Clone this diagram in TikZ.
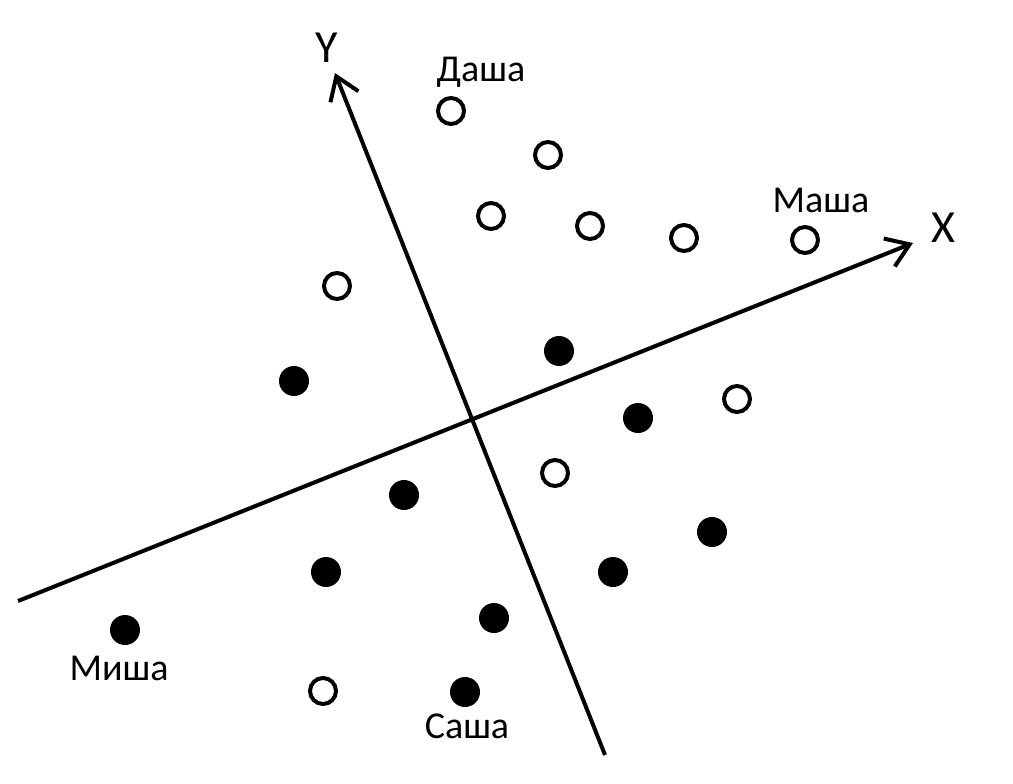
\documentclass[tikz,border=0pt]{standalone}
\usepackage{fontspec}
\setmainfont{Carlito}
\usetikzlibrary{arrows.meta}

\begin{document}
\begin{tikzpicture}[x=1pt, y=-1pt,
        hollowdot/.style={circle, draw, line width=4pt, minimum size=26pt, inner sep=0pt},
        fulldot/.style={circle, fill, minimum size=30pt, inner sep=0pt},
        kidname/.style={font=\fontsize{38}{42}\selectfont},
        axisname/.style={font=\fontsize{46}{50}\selectfont}]
        \useasboundingbox (0, 0) rectangle (1013, 784);
        % axes
        \coordinate (x0) at (18, 601);
        \coordinate (x1) at (913, 243);
        \coordinate (y0) at (605, 755);
        \coordinate (y1) at (335, 73);
        \draw[line width=4pt, -{Straight Barb[length=22pt, width=30pt, line width=4pt]}] (x0) -- (x1);
        \draw[line width=4pt, -{Straight Barb[length=22pt, width=30pt, line width=4pt]}] (y0) -- (y1);
        \node[axisname] (xlab) at (943, 228) {X};
        \node[axisname] (ylab) at (327, 48) {Y};
        % open dots
        \node[hollowdot] (dasha) at (451, 111) {};
        \node[hollowdot] (h2) at (548, 155) {};
        \node[hollowdot] (h3) at (491, 216) {};
        \node[hollowdot] (h4) at (590, 226) {};
        \node[hollowdot] (h5) at (684, 238) {};
        \node[hollowdot] (masha) at (805, 240) {};
        \node[hollowdot] (h7) at (337, 286) {};
        \node[hollowdot] (h8) at (737, 399) {};
        \node[hollowdot] (h9) at (555, 473) {};
        \node[hollowdot] (h10) at (323, 691) {};
        % filled dots
        \node[fulldot] (s1) at (559, 351) {};
        \node[fulldot] (s2) at (294, 381) {};
        \node[fulldot] (s3) at (638, 418) {};
        \node[fulldot] (s4) at (404, 495) {};
        \node[fulldot] (s5) at (712, 532) {};
        \node[fulldot] (s6) at (326, 572) {};
        \node[fulldot] (s7) at (613, 572) {};
        \node[fulldot] (s8) at (494, 618) {};
        \node[fulldot] (misha) at (125, 630) {};
        \node[fulldot] (sasha) at (465, 692) {};
        % names
        \node[kidname] (ldasha) at (481, 72) {Даша};
        \node[kidname] (lmasha) at (821, 200) {Маша};
        \node[kidname] (lmisha) at (119, 668) {Миша};
        \node[kidname] (lsasha) at (467, 726) {Саша};
    \end{tikzpicture}
\end{document}
